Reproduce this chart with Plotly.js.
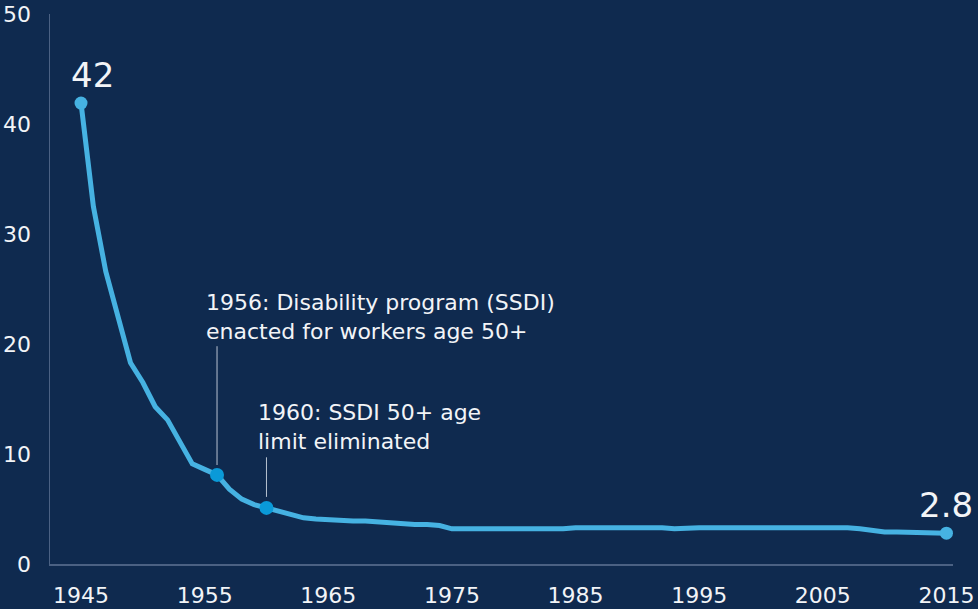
<!DOCTYPE html>
<html>
<head>
<meta charset="utf-8">
<script src="https://cdn.plot.ly/plotly-3.0.1.min.js"></script>
<style>
html,body{margin:0;padding:0;background:#0f2a4f;}
#chart{width:978px;height:609px;}
</style>
</head>
<body>
<div id="chart"></div>
<script>
// Workers per beneficiary, 1945-2015
const years = [1945,1946,1947,1948,1949,1950,1951,1952,1953,1954,1955,1956,1957,1958,1959,1960,
  1961,1962,1963,1964,1965,1966,1967,1968,1969,1970,1971,1972,1973,1974,1975,1976,1977,1978,1979,1980,
  1981,1982,1983,1984,1985,1986,1987,1988,1989,1990,1991,1992,1993,1994,1995,1996,1997,1998,1999,2000,
  2001,2002,2003,2004,2005,2006,2007,2008,2009,2010,2011,2012,2013,2014,2015];
const ratio = [41.9,32.5,26.6,22.4,18.3,16.5,14.3,13.1,11.1,9.1,8.6,8.1,6.8,5.9,5.4,5.1,
  4.7,4.4,4.2,4.1,4.0,4.0,3.9,3.9,3.8,3.8,3.7,3.6,3.6,3.5,3.2,3.2,3.2,3.2,3.2,3.2,
  3.2,3.1,3.1,3.2,3.3,3.3,3.3,3.4,3.4,3.4,3.3,3.3,3.2,3.3,3.3,3.3,3.3,3.4,3.4,3.4,
  3.4,3.3,3.3,3.3,3.3,3.3,3.3,3.2,3.0,2.9,2.9,2.9,2.8,2.8,2.8];

const endYears = [1945, 2015];
const endValues = [41.9, 2.8];
const endLabels = ['42', '2.8'];

const eventYears = [1956, 1960];
const eventValues = [8.1, 5.1];
const eventTexts = ['1956: Disability program (SSDI)<br>enacted for workers age 50+',
                    '1960: SSDI 50+ age<br>limit eliminated'];
const eventTextY = [22.45, 12.45];   // text anchor value (data units)
const eventTextShift = [-13, -10];
const eventLineTop = [19.8, 9.7];   // top of connector line (data units)
const eventLineBottom = [9.0, 6.1]; // bottom of connector line (data units)

const xTicks = [1945,1955,1965,1975,1985,1995,2005,2015];
const yTicks = [0,10,20,30,40,50];

const BG = '#0f2a4f';
const LINE = '#46b2e2';
const EVENT = '#0a9ad8';
const TXT = '#f2f4f7';
const FONT = 'DejaVu Sans, sans-serif';

const traces = [
  {x: years, y: ratio, type: 'scatter', mode: 'lines',
   line: {color: LINE, width: 5, shape: 'linear'}, hoverinfo: 'skip'},
  {x: endYears, y: endValues, type: 'scatter', mode: 'markers',
   marker: {color: LINE, size: 13}, hoverinfo: 'skip'},
  {x: eventYears, y: eventValues, type: 'scatter', mode: 'markers',
   marker: {color: EVENT, size: 14}, hoverinfo: 'skip'}
];

const annotations = [];
endYears.forEach((yr, i) => {
  annotations.push({x: yr, y: endValues[i], xref: 'x', yref: 'y', text: endLabels[i],
    showarrow: false, yanchor: 'bottom', xanchor: 'center', yshift: 6, xshift: i === 0 ? 11 : 0,
    font: {family: FONT, size: 34, color: TXT}});
});
eventYears.forEach((yr, i) => {
  annotations.push({x: yr, y: eventTextY[i], xref: 'x', yref: 'y', text: eventTexts[i],
    showarrow: false, xanchor: 'left', yanchor: 'middle', align: 'left', xshift: eventTextShift[i],
    font: {family: FONT, size: 22, color: TXT}});
});

const shapes = eventYears.map((yr, i) => ({
  type: 'line', xref: 'x', yref: 'y', x0: yr, x1: yr, y0: eventLineBottom[i], y1: eventLineTop[i],
  line: {color: '#b8c2d0', width: 1}
}));

const layout = {
  width: 978, height: 609,
  paper_bgcolor: BG, plot_bgcolor: BG,
  margin: {l: 50, r: 25, t: 14, b: 45},
  showlegend: false,
  font: {family: FONT, color: TXT, size: 20},
  xaxis: {range: [1942.49, 2015.53], tickvals: xTicks, ticktext: xTicks.map(String),
    showgrid: false, zeroline: false, showline: true, linecolor: '#4b6183', linewidth: 1.5,
    ticks: '', ticklabelstandoff: 11, tickfont: {family: FONT, size: 22, color: TXT}, fixedrange: true},
  yaxis: {range: [0, 50], tickvals: yTicks, ticktext: yTicks.map(String),
    showgrid: false, zeroline: false, showline: true, linecolor: '#4b6183', linewidth: 1.5,
    ticks: '', ticklabelstandoff: 13, tickfont: {family: FONT, size: 22, color: TXT}, fixedrange: true},
  annotations: annotations,
  shapes: shapes
};

Plotly.newPlot('chart', traces, layout, {displayModeBar: false, staticPlot: true});
</script>
</body>
</html>
